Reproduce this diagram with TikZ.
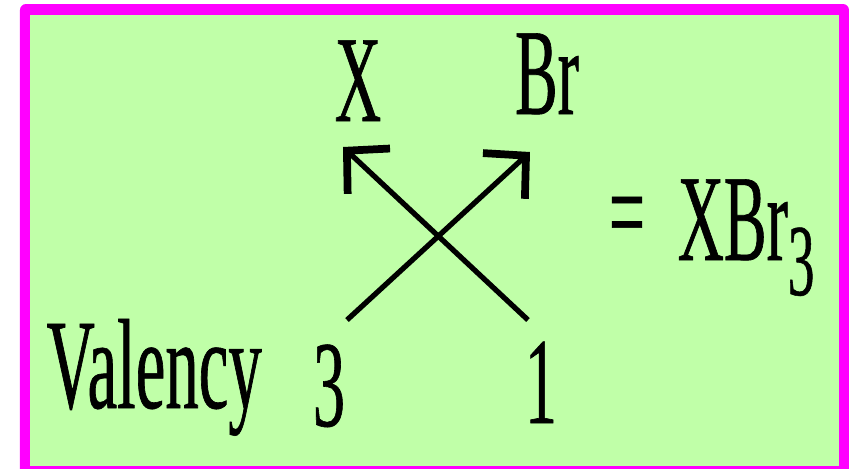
\documentclass[tikz,border=0pt]{standalone}
\usepackage{fontspec}
\setmainfont{Liberation Serif}[FakeStretch=0.52, FakeBold=0.5]
\usetikzlibrary{arrows.meta}
\definecolor{boxgreen}{RGB}{192,255,168}
\definecolor{boxpink}{RGB}{255,0,255}

\begin{document}
\begin{tikzpicture}[x=0.01cm, y=-0.01cm,
  lbl/.style={inner sep=0pt, font=\fontsize{35}{40}\selectfont},
  cross/.style={line width=1.5pt, -{Straight Barb[length=0.3cm, width=0.62cm, line width=2.2pt]}}]
  \useasboundingbox (0,0) rectangle (859,469);

  % Frame
  \fill[boxpink, rounded corners=1.7pt] (20,4) rectangle (849,480);
  \fill[boxgreen] (30,15) rectangle (839,466);

  % Symbols and valencies
  \node[lbl, anchor=base] (x) at (358,121) {X};
  \node[lbl, anchor=base] (br) at (547,114) {Br};
  \node[lbl, anchor=base west, font=\fontsize{36.5}{40}\selectfont] (val) at (46,408) {Valency};
  \node[lbl, anchor=base] (three) at (329,426) {3};
  \node[lbl, anchor=base] (one) at (541,423) {1};

  % Result
  \node[lbl] (eq) at (627,225) {=};
  \node[lbl, anchor=base west] (xbr) at (677,260) {XBr\raisebox{-0.35cm}{\fontsize{29}{29}\selectfont 3}};

  % Crossing arrows
  \coordinate (foot3) at (347,320);
  \coordinate (foot1) at (528,320);
  \coordinate (tipx) at (343,147);
  \coordinate (tipbr) at (530,152);
  \draw[cross] (foot3) -- (tipbr);
  \draw[cross] (foot1) -- (tipx);

\end{tikzpicture}
\end{document}
